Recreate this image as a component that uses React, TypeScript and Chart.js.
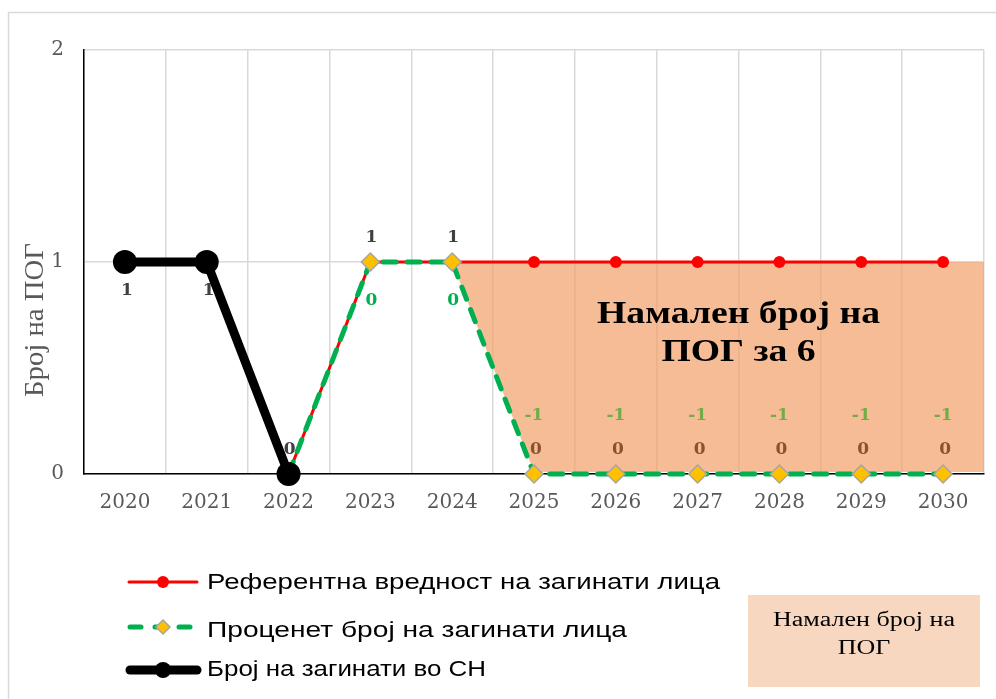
import React, { useEffect, useRef } from 'react';
import { Chart, registerables } from 'chart.js';

Chart.register(...registerables);

// ---------- data ----------
const years = ['2020', '2021', '2022', '2023', '2024', '2025', '2026', '2027', '2028', '2029', '2030'];
const actualDeaths: (number | null)[] = [1, 1, 0, null, null, null, null, null, null, null, null];
const referenceValues: (number | null)[] = [null, null, 0, 1, 1, 1, 1, 1, 1, 1, 1];
const estimatedDeaths: (number | null)[] = [null, null, 0, 1, 1, 0, 0, 0, 0, 0, 0];
const actualLabels: (string | null)[] = ['1', '1', null, null, null, null, null, null, null, null, null];
const referenceLabels: (string | null)[] = [null, null, '0', '1', '1', null, null, null, null, null, null];
const estimatedLabels: (string | null)[] = [null, null, null, '0', '0', null, null, null, null, null, null];
const differenceLabels: (string | null)[] = [null, null, null, null, null, '-1', '-1', '-1', '-1', '-1', '-1'];
const reductionLabels: (string | null)[] = [null, null, null, null, null, '0', '0', '0', '0', '0', '0'];
const yMin = 0;
const yMax = 2;
const yStep = 1;

const seriesNames = [
  'Референтна вредност на загинати лица',
  'Проценет број на загинати лица',
  'Број на загинати во СН',
];
const yTitle = 'Број на ПОГ';
const areaTitle = ['Намален број на', 'ПОГ за 6'];
const areaLegend = ['Намален број на', 'ПОГ'];

const RED = '#FF0000';
const GREEN = '#00B050';
const GOLD = '#FFC000';
const DIAMOND_BORDER = '#A5A5A5';
const AREA_FILL = 'rgba(241,160,105,0.7)';
const AREA_LEGEND_FILL = 'rgb(248,215,192)';
const GRID = '#D9D9D9';
const TEXT_GRAY = '#595959';

function fitText(ctx: CanvasRenderingContext2D, text: string, x: number, y: number, width: number, align: CanvasTextAlign, scaleRef?: number) {
  const w = ctx.measureText(text).width;
  const s = scaleRef ?? width / w;
  ctx.save();
  ctx.translate(x, y);
  ctx.scale(s, 1);
  ctx.textAlign = align;
  ctx.fillText(text, 0, 0);
  ctx.restore();
  return s;
}

function diamond(ctx: CanvasRenderingContext2D, cx: number, cy: number, r: number) {
  ctx.beginPath();
  ctx.moveTo(cx, cy - r);
  ctx.lineTo(cx + r, cy);
  ctx.lineTo(cx, cy + r);
  ctx.lineTo(cx - r, cy);
  ctx.closePath();
  ctx.fillStyle = GOLD;
  ctx.fill();
  ctx.strokeStyle = DIAMOND_BORDER;
  ctx.lineWidth = 1.5;
  ctx.stroke();
}

const customPlugin = {
  id: 'customDecor',
  beforeDraw(chart: any) {
    const { ctx } = chart;
    ctx.save();
    ctx.strokeStyle = GRID;
    ctx.lineWidth = 1.5;
    ctx.strokeRect(8.5, 12.5, 1200, 900);
    ctx.restore();
  },
  beforeDatasetsDraw(chart: any) {
    const { ctx, chartArea, scales } = chart;
    const x = scales.x;
    const y = scales.y;
    const n = years.length;
    let start = -1;
    for (let i = 0; i < n - 1; i++) {
      if (referenceValues[i] != null && estimatedDeaths[i] != null && referenceValues[i] === estimatedDeaths[i] && estimatedDeaths[i + 1] !== referenceValues[i + 1]) {
        start = i;
      }
    }
    if (start >= 0) {
      ctx.save();
      ctx.beginPath();
      ctx.moveTo(x.getPixelForValue(start), y.getPixelForValue(referenceValues[start] as number));
      for (let i = start + 1; i < n; i++) ctx.lineTo(x.getPixelForValue(i), y.getPixelForValue(referenceValues[i] as number));
      ctx.lineTo(chartArea.right, y.getPixelForValue(referenceValues[n - 1] as number));
      ctx.lineTo(chartArea.right, y.getPixelForValue(estimatedDeaths[n - 1] as number) - 2);
      for (let i = n - 1; i > start; i--) ctx.lineTo(x.getPixelForValue(i), y.getPixelForValue(estimatedDeaths[i] as number) - 2);
      ctx.closePath();
      ctx.fillStyle = AREA_FILL;
      ctx.fill();
      ctx.restore();
    }

    // big annotation text
    ctx.save();
    ctx.fillStyle = '#000';
    ctx.font = 'bold 31px "Liberation Serif", serif';
    ctx.textBaseline = 'alphabetic';
    const cx = (x.getPixelForValue(7) + x.getPixelForValue(8)) / 2;
    const by = y.getPixelForValue(0.71);
    const s = fitText(ctx, areaTitle[0], cx, by, 283, 'center');
    fitText(ctx, areaTitle[1], cx, by + 38, 0, 'center', s);
    ctx.restore();

    // data labels
    ctx.save();
    ctx.font = 'bold 17px "DejaVu Serif", serif';
    ctx.textAlign = 'center';
    ctx.textBaseline = 'middle';
    const put = (arr: (string | null)[], vals: (number | null)[], dy: number, color: string, dx = 0) => {
      ctx.fillStyle = color;
      arr.forEach((t, i) => {
        if (t == null || vals[i] == null) return;
        ctx.fillText(t, x.getPixelForValue(i) + dx, y.getPixelForValue(vals[i] as number) + dy);
      });
    };
    put(actualLabels, actualDeaths, 29, '#404040', 2);
    put(referenceLabels, referenceValues, -24, '#404040', 1);
    put(estimatedLabels, estimatedDeaths, 39, GREEN, 1);
    put(differenceLabels, estimatedDeaths, -58, '#70AD47');
    put(reductionLabels, estimatedDeaths, -24, '#8C5230', 2);
    ctx.restore();
  },
  afterDraw(chart: any) {
    const { ctx } = chart;
    ctx.save();
    ctx.fillStyle = TEXT_GRAY;
    ctx.font = '28px "Liberation Serif", serif';
    ctx.translate(43, 320);
    ctx.rotate(-Math.PI / 2);
    ctx.textBaseline = 'alphabetic';
    fitText(ctx, yTitle, 0, 0, 154, 'center');
    ctx.restore();

    // legend
    ctx.save();
    ctx.lineCap = 'round';
    ctx.strokeStyle = RED;
    ctx.lineWidth = 3;
    ctx.beginPath();
    ctx.moveTo(129, 582);
    ctx.lineTo(197, 582);
    ctx.stroke();
    ctx.fillStyle = RED;
    ctx.beginPath();
    ctx.arc(163, 582, 6, 0, Math.PI * 2);
    ctx.fill();
    ctx.strokeStyle = GREEN;
    ctx.lineWidth = 5;
    [[130, 141], [155, 158], [179, 190]].forEach(([a, b]) => {
      ctx.beginPath();
      ctx.moveTo(a, 627);
      ctx.lineTo(b, 627);
      ctx.stroke();
    });
    diamond(ctx, 163, 627, 7);
    ctx.strokeStyle = '#000';
    ctx.lineWidth = 9;
    ctx.beginPath();
    ctx.moveTo(130, 670);
    ctx.lineTo(197, 670);
    ctx.stroke();
    ctx.fillStyle = '#000';
    ctx.beginPath();
    ctx.arc(163, 670, 8, 0, Math.PI * 2);
    ctx.fill();

    ctx.fillStyle = '#000';
    ctx.font = '22px "Liberation Sans", sans-serif';
    ctx.textBaseline = 'alphabetic';
    fitText(ctx, seriesNames[0], 207, 589, 513, 'left');
    fitText(ctx, seriesNames[1], 207, 637, 420, 'left');
    fitText(ctx, seriesNames[2], 207, 676, 279, 'left');

    ctx.fillStyle = AREA_LEGEND_FILL;
    ctx.fillRect(748, 595, 232, 92);
    ctx.fillStyle = '#000';
    ctx.font = '20px "Liberation Serif", serif';
    const s2 = fitText(ctx, areaLegend[0], 864, 626, 182, 'center');
    fitText(ctx, areaLegend[1], 864, 654, 0, 'center', s2);
    ctx.restore();
  },
};

export default function App() {
  const ref = useRef<HTMLCanvasElement | null>(null);
  useEffect(() => {
    if (!ref.current) return;
    const chart = new Chart(ref.current, {
      type: 'line',
      data: {
        labels: years,
        datasets: [
          {
            label: seriesNames[0],
            data: referenceValues,
            borderColor: RED,
            backgroundColor: RED,
            borderWidth: 3,
            pointRadius: 6,
            pointBackgroundColor: RED,
            pointBorderColor: RED,
            pointBorderWidth: 0,
            clip: false,
            order: 2,
          },
          {
            label: seriesNames[1],
            data: estimatedDeaths,
            borderColor: GREEN,
            backgroundColor: GOLD,
            borderWidth: 5,
            borderDash: [13, 11],
            borderCapStyle: 'round',
            pointStyle: 'rectRot',
            pointRadius: 9,
            pointBackgroundColor: GOLD,
            pointBorderColor: DIAMOND_BORDER,
            pointBorderWidth: 1.5,
            clip: false,
            order: 1,
          },
          {
            label: seriesNames[2],
            data: actualDeaths,
            borderColor: '#000',
            backgroundColor: '#000',
            borderWidth: 9,
            pointRadius: 12,
            pointBackgroundColor: '#000',
            pointBorderColor: '#000',
            pointBorderWidth: 0,
            clip: false,
            order: 0,
          },
        ],
      },
      options: {
        animation: false,
        responsive: true,
        maintainAspectRatio: false,
        layout: { padding: { left: 0, top: 50, right: 7, bottom: 0 } },
        plugins: { legend: { display: false }, tooltip: { enabled: false } },
        scales: {
          x: {
            offset: true,
            grid: { offset: true, color: GRID, lineWidth: 1.5, drawTicks: false },
            border: { color: '#000', width: 1.5 },
            ticks: { color: TEXT_GRAY, font: { family: '"DejaVu Serif", serif', size: 20 }, padding: 17, maxRotation: 0 },
            afterFit: (scale: any) => { scale.height = 225; },
          },
          y: {
            min: yMin,
            max: yMax,
            ticks: { stepSize: yStep, color: TEXT_GRAY, font: { family: '"DejaVu Serif", serif', size: 20 }, padding: 20 },
            grid: { color: GRID, lineWidth: 1.5, drawTicks: false },
            border: { color: '#000', width: 1.5 },
            afterFit: (scale: any) => { scale.width = 84; },
          },
        },
      } as any,
      plugins: [customPlugin],
    });
    return () => chart.destroy();
  }, []);
  return (
    <div style={{ position: 'fixed', left: 0, top: 0, width: 996, height: 699, background: '#fff' }}>
      <canvas ref={ref} />
    </div>
  );
}
